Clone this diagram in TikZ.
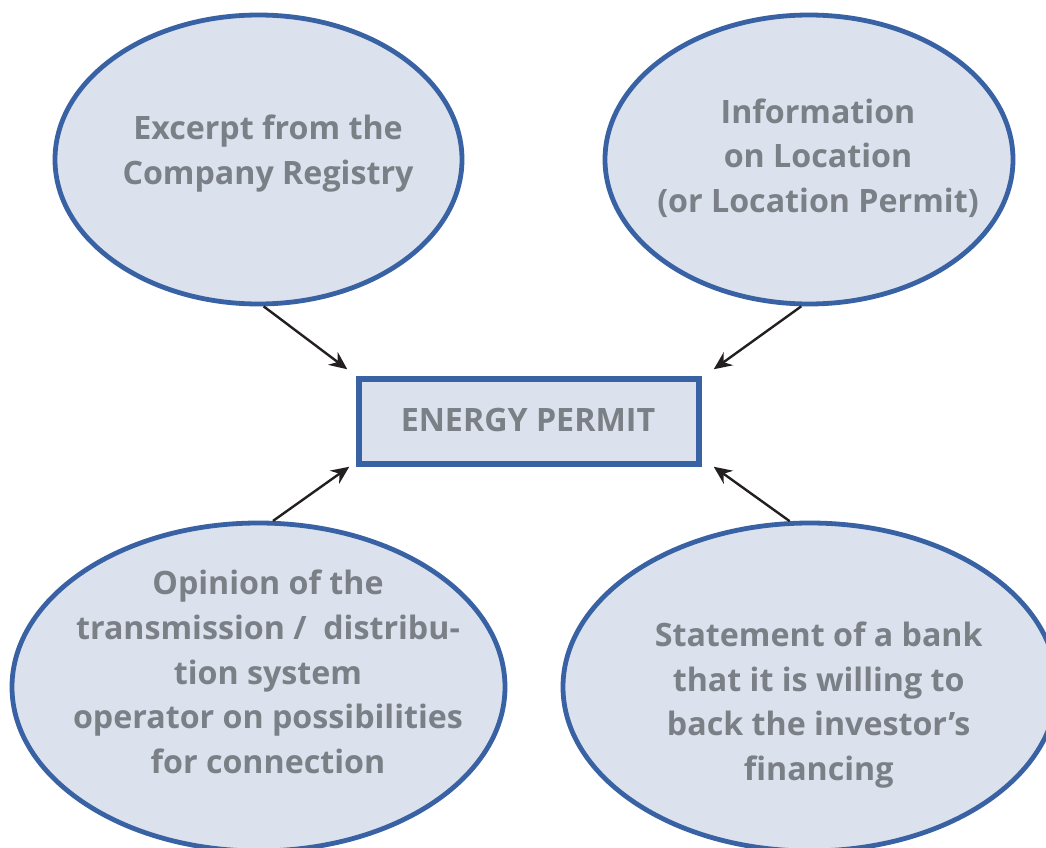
\documentclass[tikz,border=0pt]{standalone}
\usepackage{fontspec}
\setmainfont{Open Sans}
\usetikzlibrary{shapes.geometric,arrows.meta,calc}
\definecolor{fillc}{HTML}{DBE1ED}
\definecolor{edgec}{HTML}{3862A3}
\definecolor{txtc}{HTML}{7B7F86}
\definecolor{arrc}{HTML}{231F20}
\tikzset{
  bubble/.style={ellipse, draw=edgec, fill=fillc, line width=4.8pt, inner sep=0pt},
  permitbox/.style={rectangle, draw=edgec, fill=fillc, line width=5.5pt, inner sep=0pt,
    minimum width=340pt, minimum height=85pt},
  txt/.style={align=center, text=txtc, inner sep=0pt,
    font=\fontsize{32.2}{44.7}\selectfont\bfseries},
  conn/.style={draw=arrc, line width=2.4pt, -{Stealth[length=18pt,width=16pt,inset=6pt]}}
}
\begin{document}
\begin{tikzpicture}[x=1pt,y=-1pt]
\useasboundingbox (0,0) rectangle (1046,848);
\clip (0,0) rectangle (1046,848);
\fill[white] (0,0) rectangle (1046,848);
% bubbles
\node[bubble, minimum width=407pt, minimum height=289pt] (tl) at (258.5,159.5) {};
\node[bubble, minimum width=408pt, minimum height=289pt] (tr) at (809,159.5) {};
\node[bubble, minimum width=493pt, minimum height=328pt] (bl) at (258.5,687) {};
\node[bubble, minimum width=494pt, minimum height=328pt] (br) at (810,687) {};
% centre box
\node[permitbox] (ep) at (529,421.5) {};
\node[txt, anchor=base] (eptxt) at (528,431.7) {ENERGY PERMIT};
% texts
\node[txt] (tltxt) at (268,153.5) {Excerpt from the\\Company Registry};
\node[txt] (trtxt) at (818,158) {Information\\on Location\\(or Location Permit)};
\node[txt] (bltxt) at (268,672) {Opinion of the\\transmission /\ \ distribu-\\tion system\\operator on possibilities\\for connection};
\node[txt] (brtxt) at (818.7,705) {Statement of a bank\\that it is willing to\\back the investor’s\\financing};
% arrow targets
\coordinate (aTL) at ($(ep.north west)+(-9,-7)$);
\coordinate (aTR) at ($(ep.north east)+(12,-7)$);
\coordinate (aBL) at ($(ep.south west)+(-7,0)$);
\coordinate (aBR) at ($(ep.south east)+(12,0)$);
% connectors
\draw[conn] (tl.-88) -- (aTL);
\draw[conn] (tr.-93) -- (aTR);
\draw[conn] (bl.85) -- (aBL);
\draw[conn] (br.97) -- (aBR);
\end{tikzpicture}
\end{document}
